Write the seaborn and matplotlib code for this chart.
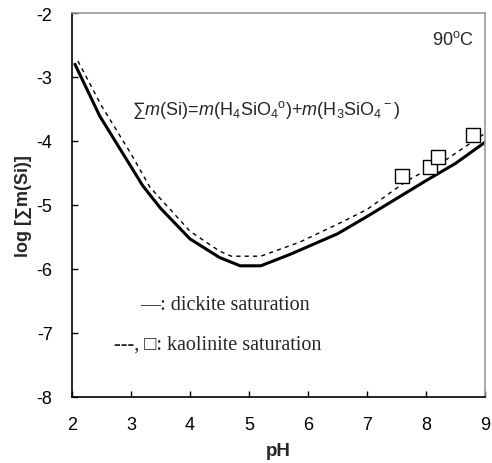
import matplotlib
matplotlib.use("Agg")
import matplotlib.pyplot as plt
import seaborn as sns
import pandas as pd

# Dickite saturation curve (solid)
dickite_ph = [2.05, 2.47, 3.2, 3.5, 4.0, 4.5, 4.85, 5.2, 5.7, 6.0, 6.5, 7.0, 7.5, 8.0, 8.5, 9.0]
dickite_logsi = [-2.8, -3.61, -4.70, -5.05, -5.53, -5.82, -5.95, -5.95, -5.77, -5.65, -5.45, -5.18, -4.90, -4.62, -4.35, -4.02]

# Kaolinite saturation curve (dashed)
kaolinite_ph = [2.1, 2.5, 3.0, 3.32, 4.0, 4.5, 4.7, 5.2, 5.5, 5.86, 6.5, 7.0, 7.68, 8.36, 9.0]
kaolinite_logsi = [-2.75, -3.45, -4.2, -4.72, -5.41, -5.72, -5.8, -5.8, -5.7, -5.58, -5.3, -5.07, -4.62, -4.28, -3.88]

# Kaolinite data points (squares)
pts_ph = [7.59, 8.07, 8.2, 8.8]
pts_logsi = [-4.55, -4.41, -4.25, -3.91]

xticks = [2, 3, 4, 5, 6, 7, 8, 9]
yticks = [-8, -7, -6, -5, -4, -3, -2]

sns.set_theme(style="white")
plt.rcParams['font.family'] = ['Liberation Sans', 'DejaVu Sans']
plt.rcParams['mathtext.fontset'] = 'custom'
plt.rcParams['mathtext.rm'] = 'Liberation Sans'
plt.rcParams['mathtext.it'] = 'Liberation Sans:italic'
plt.rcParams['mathtext.bf'] = 'Liberation Sans:bold'

fig = plt.figure(figsize=(4.92, 4.64), dpi=100)
ax = fig.add_axes([72/492, 1 - 398/464, (485 - 72)/492, (398 - 14)/464])

df_d = pd.DataFrame({"pH": dickite_ph, "y": dickite_logsi})
df_k = pd.DataFrame({"pH": kaolinite_ph, "y": kaolinite_logsi})
df_p = pd.DataFrame({"pH": pts_ph, "y": pts_logsi})

sns.lineplot(data=df_d, x="pH", y="y", ax=ax, color="black", linewidth=2.2, sort=False)
sns.lineplot(data=df_k, x="pH", y="y", ax=ax, color="black", linewidth=1.0,
             linestyle=(0, (3, 3)), sort=False)
sns.scatterplot(data=df_p, x="pH", y="y", ax=ax, marker="s", s=95,
                facecolor="white", edgecolor="black", linewidth=1.0, zorder=5)

ax.set_xlim(2, 9)
ax.set_ylim(-8, -2)
ax.set_xticks(xticks)
ax.set_yticks(yticks)
ax.set_xticklabels([str(v) for v in xticks])
ax.set_yticklabels([str(v) for v in yticks])
ax.tick_params(axis="both", direction="in", length=4, width=1, labelsize=13,
               colors="black", bottom=True, left=True, top=False, right=False)
ax.tick_params(axis="x", pad=14)
ax.tick_params(axis="y", pad=14)

for s in ["left", "bottom"]:
    ax.spines[s].set_color("black")
    ax.spines[s].set_linewidth(1.2)
for s in ["top", "right"]:
    ax.spines[s].set_color("#999999")
    ax.spines[s].set_linewidth(1.2)

ax.set_xlabel("pH", fontsize=13.5, fontweight="bold", labelpad=6)
ax.set_ylabel("log [∑m(Si)]", fontsize=13, fontweight="bold", labelpad=3)

ax.text(0.973, 0.932, r"90$^{\rm o}$C", transform=ax.transAxes, ha="right", va="center", fontsize=13)
ax.text(3.02, -3.5, r"∑$m$(Si)=$m$(H$_4$SiO$_4$$^{\rm o}$)+$m$(H$_3$SiO$_4$$^{\rm -}$)",
        ha="left", va="center", fontsize=13)

serif = ['Liberation Serif', 'DejaVu Serif']
ax.text(3.15, -6.55, "—: dickite saturation", ha="left", va="center", fontsize=14.5, family=serif)
ax.text(2.72, -7.17, "---, □: kaolinite saturation", ha="left", va="center", fontsize=14.5, family=serif)

fig.savefig("out.png", dpi=100)
